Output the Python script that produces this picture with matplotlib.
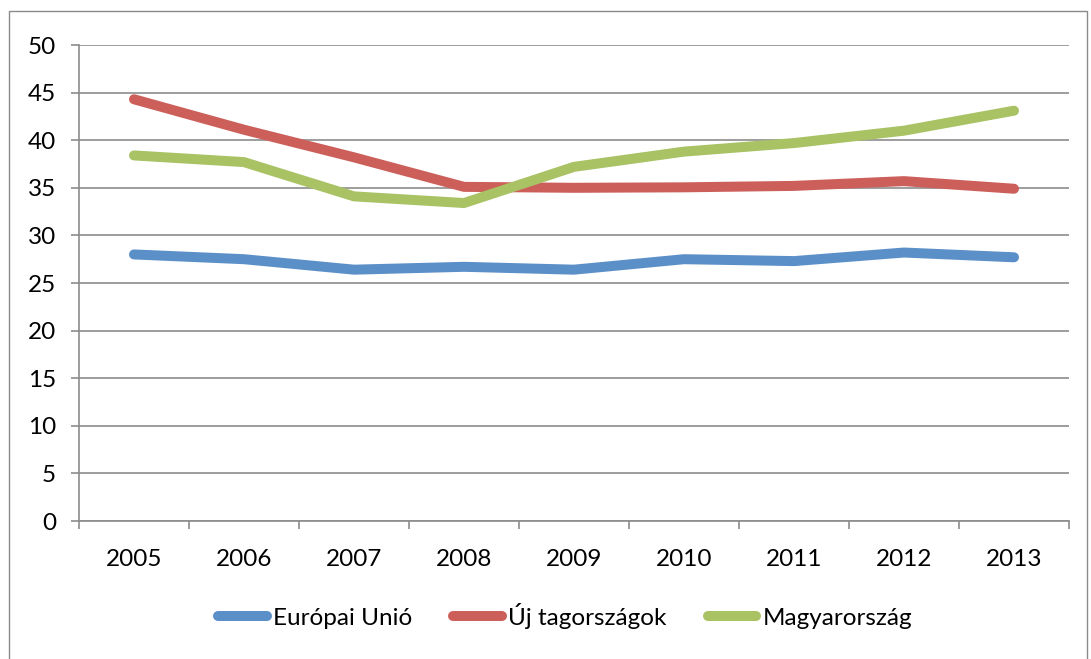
import numpy as np
import matplotlib.pyplot as plt
from matplotlib.patches import Rectangle

years = ['2005', '2006', '2007', '2008', '2009', '2010', '2011', '2012', '2013']
europai_unio = [28.0, 27.5, 26.4, 26.7, 26.4, 27.5, 27.3, 28.2, 27.7]
uj_tagorszagok = [44.3, 41.1, 38.2, 35.1, 35.0, 35.05, 35.2, 35.7, 34.9]
magyarorszag = [38.4, 37.7, 34.1, 33.4, 37.2, 38.8, 39.7, 41.0, 43.1]

plt.rcParams['font.family'] = ['Lato', 'DejaVu Sans']
W, H = 1091, 659
fig = plt.figure(figsize=(W / 100, H / 100), dpi=100)

# keret a diagram körül
fig.patches.append(Rectangle((9 / W, -0.05), 1078 / W, 1.05 - 11 / H,
                             transform=fig.transFigure, fill=False,
                             edgecolor='#8a8a8a', lw=1.0))

ax = fig.add_axes([79 / W, (H - 521) / H, 990 / W, 476 / H])
x = np.arange(len(years))
grid_c = '#8c8c8c'

series = [(europai_unio, '#5b8fc7', 'Európai Unió'),
          (uj_tagorszagok, '#cc5f5a', 'Új tagországok'),
          (magyarorszag, '#a8c264', 'Magyarország')]
for vals, col, lab in series:
    ax.plot(x, vals, color=col, lw=7.2, label=lab,
            solid_capstyle='round', solid_joinstyle='round', zorder=3)

ax.set_xlim(-0.5, len(years) - 0.5)
ax.set_ylim(0, 50)
ax.set_yticks(np.arange(0, 51, 5))
ax.set_xticks(x)
ax.set_xticklabels(years)
ax.set_xticks(np.arange(-0.5, len(years)), minor=True)
ax.yaxis.grid(True, color=grid_c, lw=1.2)
ax.set_axisbelow(True)

for s in ['top', 'right']:
    ax.spines[s].set_visible(False)
for s in ['left', 'bottom']:
    ax.spines[s].set_color(grid_c)
    ax.spines[s].set_linewidth(1.2)

fs = 17.5
ax.tick_params(axis='y', length=5.5, width=1.2, color=grid_c, pad=11, labelsize=fs)
ax.tick_params(axis='x', which='major', length=0, pad=20, labelsize=fs)
ax.tick_params(axis='x', which='minor', length=6, width=1.2, color=grid_c)

fig.legend(loc='center', bbox_to_anchor=(0.518, 1 - 616 / H), ncol=3, frameon=False,
           fontsize=fs, handlelength=2.0, handletextpad=0.25, columnspacing=1.7)

fig.savefig('out.png', dpi=100)
